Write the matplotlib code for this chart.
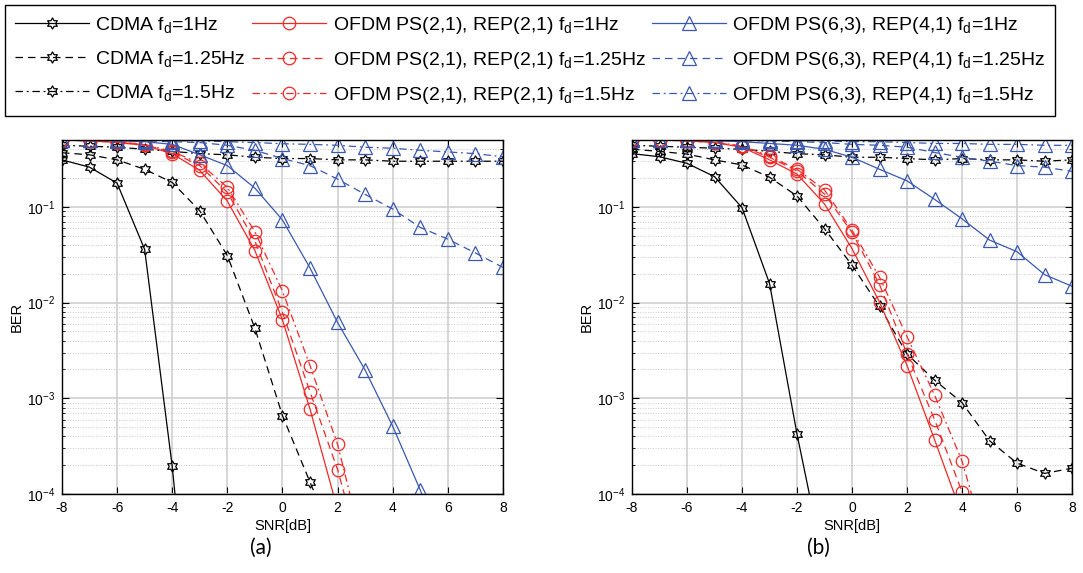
import numpy as np
import matplotlib.pyplot as plt
from matplotlib.path import Path

plt.rcParams['font.family'] = ['Liberation Sans', 'DejaVu Sans']
plt.rcParams['mathtext.fontset'] = 'custom'
plt.rcParams['mathtext.rm'] = 'Liberation Sans'
plt.rcParams['mathtext.it'] = 'Liberation Sans:italic'
plt.rcParams['mathtext.default'] = 'regular'
plt.rcParams['axes.unicode_minus'] = False

nan = np.nan
snr = np.arange(-8, 9)

# (a) values
cdma_a_1 = [0.31, 0.26, 0.177, 0.036, 1.95e-4, 2.5e-7, nan, nan, nan, nan, nan, nan, nan, nan, nan, nan, nan]
cdma_a_125 = [0.368, 0.35, 0.31, 0.247, 0.18, 0.091, 0.031, 0.0054, 6.6e-4, 1.33e-4, 2.7e-5, nan, nan, nan, nan, nan, nan]
cdma_a_15 = [0.44, 0.43, 0.42, 0.40, 0.38, 0.36, 0.35, 0.33, 0.32, 0.32, 0.31, 0.31, 0.30, 0.30, 0.30, 0.30, 0.30]
ps21_a_1 = [0.5, 0.49, 0.47, 0.44, 0.36, 0.24, 0.115, 0.035, 0.0066, 7.7e-4, 6.9e-5, nan, nan, nan, nan, nan, nan]
ps21_a_125 = [0.5, 0.49, 0.475, 0.445, 0.37, 0.27, 0.142, 0.044, 0.0079, 1.17e-3, 1.8e-4, 1.6e-5, nan, nan, nan, nan, nan]
ps21_a_15 = [0.5, 0.49, 0.48, 0.45, 0.38, 0.285, 0.16, 0.055, 0.0132, 2.2e-3, 3.3e-4, 2.3e-5, nan, nan, nan, nan, nan]
ps63_a_1 = [0.5, 0.5, 0.49, 0.48, 0.45, 0.35, 0.27, 0.157, 0.073, 0.023, 0.0062, 1.97e-3, 5.1e-4, 1.1e-4, 2e-5, nan, nan]
ps63_a_125 = [0.5, 0.5, 0.5, 0.49, 0.48, 0.47, 0.44, 0.39, 0.32, 0.27, 0.195, 0.135, 0.095, 0.061, 0.046, 0.033, 0.0233]
ps63_a_15 = [0.5, 0.5, 0.5, 0.5, 0.49, 0.49, 0.48, 0.47, 0.457, 0.45, 0.44, 0.42, 0.41, 0.39, 0.375, 0.36, 0.334]

# (b)
cdma_b_1 = [0.36, 0.334, 0.285, 0.207, 0.098, 0.0158, 4.2e-4, 1.7e-5, nan, nan, nan, nan, nan, nan, nan, nan, nan]
cdma_b_125 = [0.40, 0.38, 0.356, 0.31, 0.274, 0.204, 0.13, 0.059, 0.0245, 0.0091, 0.0029, 1.55e-3, 9e-4, 3.6e-4, 2.1e-4, 1.64e-4, 1.86e-4]
cdma_b_15 = [0.44, 0.43, 0.42, 0.41, 0.40, 0.38, 0.36, 0.35, 0.33, 0.33, 0.32, 0.31, 0.32, 0.31, 0.31, 0.30, 0.31]
ps21_b_1 = [0.5, 0.5, 0.49, 0.47, 0.42, 0.31, 0.22, 0.107, 0.0365, 0.0101, 0.0022, 3.7e-4, 6e-5, nan, nan, nan, nan]
ps21_b_125 = [0.5, 0.5, 0.49, 0.47, 0.43, 0.33, 0.237, 0.136, 0.054, 0.0154, 0.0029, 6e-4, 1.05e-4, 1.5e-5, nan, nan, nan]
ps21_b_15 = [0.5, 0.5, 0.49, 0.48, 0.43, 0.34, 0.247, 0.15, 0.057, 0.0184, 0.0044, 1.08e-3, 2.2e-4, 2.2e-5, nan, nan, nan]
ps63_b_1 = [0.5, 0.5, 0.5, 0.49, 0.48, 0.46, 0.44, 0.40, 0.33, 0.247, 0.187, 0.12, 0.075, 0.045, 0.034, 0.0196, 0.0148]
ps63_b_125 = [0.5, 0.5, 0.5, 0.5, 0.49, 0.49, 0.48, 0.47, 0.45, 0.44, 0.42, 0.37, 0.33, 0.30, 0.27, 0.26, 0.235]
ps63_b_15 = [0.5, 0.5, 0.5, 0.5, 0.5, 0.5, 0.49, 0.49, 0.48, 0.48, 0.47, 0.46, 0.46, 0.45, 0.45, 0.44, 0.44]

labels = [
    'CDMA f$_d$=1Hz', 'CDMA f$_d$=1.25Hz', 'CDMA f$_d$=1.5Hz',
    'OFDM PS(2,1), REP(2,1) f$_d$=1Hz', 'OFDM PS(2,1), REP(2,1) f$_d$=1.25Hz', 'OFDM PS(2,1), REP(2,1) f$_d$=1.5Hz',
    'OFDM PS(6,3), REP(4,1) f$_d$=1Hz', 'OFDM PS(6,3), REP(4,1) f$_d$=1.25Hz', 'OFDM PS(6,3), REP(4,1) f$_d$=1.5Hz',
]

# six-pointed star like matlab 'hexagram'
ang = np.deg2rad(90 + 30 * np.arange(12))
rad = np.where(np.arange(12) % 2 == 0, 1.0, 1 / np.sqrt(3))
verts = np.column_stack([rad * np.cos(ang), rad * np.sin(ang)])
hexagram = Path(np.vstack([verts, verts[:1]]), closed=True)

styles = ['-', (0, (6, 4)), (0, (6, 3, 1.5, 3))]
red = '#f02828'
blue = '#3a58b0'


def draw(ax, cdma, ps21, ps63):
    for vals, ls in zip(cdma, styles):
        ax.semilogy(snr, vals, color='k', ls=ls, lw=0.9, marker=hexagram, ms=8, mfc='none', mew=0.9)
    for vals, ls in zip(ps21, styles):
        ax.semilogy(snr, vals, color=red, ls=ls, lw=0.9, marker='o', ms=9, mfc='none', mew=0.9)
    for vals, ls in zip(ps63, styles):
        ax.semilogy(snr, vals, color=blue, ls=ls, lw=0.9, marker='^', ms=10, mfc='none', mew=0.9)
    ax.set_xlim(-8, 8)
    ax.set_ylim(1e-4, 0.5)
    ax.set_xticks(np.arange(-8, 9, 2))
    ax.set_axisbelow(True)
    ax.grid(which='major', color='#cfcfcf', lw=1.2)
    ax.grid(which='minor', color='#c8c8c8', lw=0.7, ls=':')
    ax.tick_params(which='both', direction='in', top=True, right=True, labelsize=10, pad=5)
    ax.tick_params(which='major', length=5)
    ax.tick_params(which='minor', length=2.5)
    for s in ax.spines.values():
        s.set_linewidth(1.0)
    ax.set_xlabel('SNR[dB]', fontsize=10.5, labelpad=3)
    ax.set_ylabel('BER', fontsize=10.5, labelpad=2)


fig = plt.figure(figsize=(10.83, 5.73), dpi=100)
ax_a = fig.add_axes([0.0572, 0.1379, 0.4072, 0.6178])
ax_b = fig.add_axes([0.5836, 0.1379, 0.4063, 0.6178])
draw(ax_a, [cdma_a_1, cdma_a_125, cdma_a_15], [ps21_a_1, ps21_a_125, ps21_a_15], [ps63_a_1, ps63_a_125, ps63_a_15])
draw(ax_b, [cdma_b_1, cdma_b_125, cdma_b_15], [ps21_b_1, ps21_b_125, ps21_b_15], [ps63_b_1, ps63_b_125, ps63_b_15])

fig.text(0.241, 0.044, '(a)', ha='center', va='center', fontsize=15, family=['Lato', 'Liberation Sans'])
fig.text(0.756, 0.044, '(b)', ha='center', va='center', fontsize=15, family=['Lato', 'Liberation Sans'])

handles = ax_a.get_lines()
leg = fig.legend(handles, labels, ncol=3, loc='upper left', bbox_to_anchor=(0.0046, 0.991),
                 borderaxespad=0, fontsize=14, handlelength=3.8, handletextpad=0.35, columnspacing=0.3,
                 labelspacing=0.72, borderpad=0.5, fancybox=False, edgecolor='k', framealpha=1)
leg.get_frame().set_linewidth(1.0)

fig.savefig('out.png', dpi=100)
